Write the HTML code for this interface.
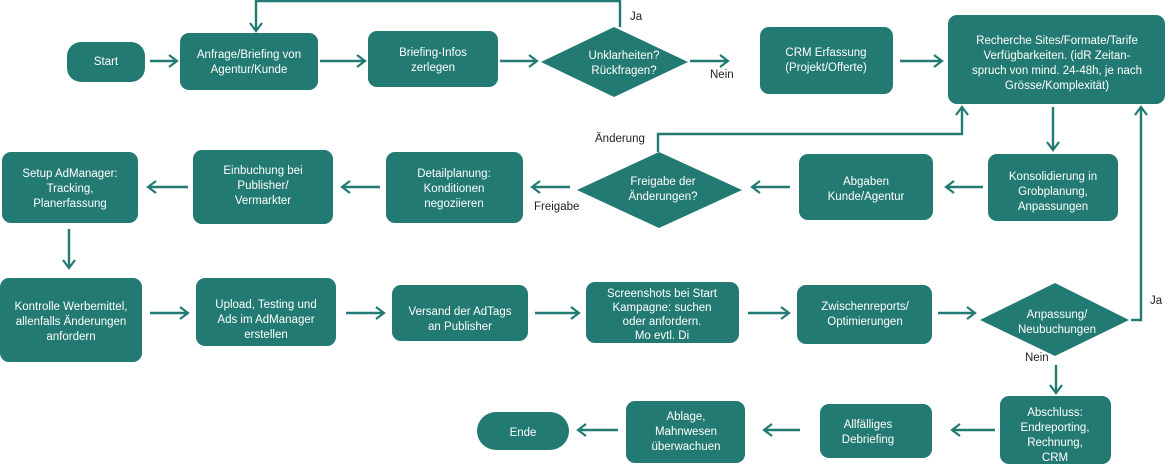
<!DOCTYPE html>
<html><head><meta charset="utf-8"><style>
html,body{margin:0;padding:0;background:#fff;}
svg{display:block;font-family:"Liberation Sans",sans-serif;}
.b{fill:#237a72;}
.t{fill:#fff;font-size:11.5px;text-anchor:middle;}
.l{fill:#222;font-size:11.5px;}
.c{stroke:#237a72;stroke-width:2.4;fill:none;}
</style></head><body>
<svg width="1165" height="466" viewBox="0 0 1165 466">
<defs><marker id="a" markerWidth="12" markerHeight="14" refX="10" refY="7" orient="auto" markerUnits="userSpaceOnUse"><path d="M2,1 L10,7 L2,13" fill="none" stroke="#237a72" stroke-width="2.2"/></marker></defs>
<g class="c" marker-end="url(#a)">
<path d="M150,61 H177"/>
<path d="M320,61 H365"/>
<path d="M500,61 H537"/>
<path d="M620,27 V1 H256 V31"/>
<path d="M690,61 H728"/>
<path d="M900,61 H942"/>
<path d="M1053,107 V150"/>
<path d="M983,187 H946"/>
<path d="M790,187 H752"/>
<path d="M658,152 V134 H962 V107"/>
<path d="M570,187 H532"/>
<path d="M380,187 H342"/>
<path d="M188,187 H148"/>
<path d="M69,229 V268"/>
<path d="M150,313 H188"/>
<path d="M346,313 H384"/>
<path d="M535,313 H579"/>
<path d="M748,313 H789"/>
<path d="M938,313 H975"/>
<path d="M1131,320 H1141 V107"/>
<path d="M1056,365 V393"/>
<path d="M995,430 H952"/>
<path d="M800,430 H764"/>
<path d="M618,430 H578"/>
</g>
<g class="b">
<rect x="67" y="42" width="78" height="40" rx="14"/>
<rect x="180" y="33" width="138" height="57" rx="9"/>
<rect x="368" y="31" width="130" height="56" rx="9"/>
<polygon points="541,62 614,27 688,62 614,97"/>
<rect x="760" y="27" width="133" height="67" rx="9"/>
<rect x="948" y="15" width="217" height="89" rx="9"/>
<rect x="988" y="154" width="130" height="67" rx="9"/>
<rect x="799" y="154" width="134" height="66" rx="9"/>
<polygon points="577,190 659,152 742,190 659,228"/>
<rect x="386" y="152" width="137" height="71" rx="9"/>
<rect x="193" y="150" width="140" height="74" rx="9"/>
<rect x="2" y="152" width="136" height="71" rx="9"/>
<rect x="0" y="278" width="142" height="84" rx="9"/>
<rect x="196" y="278" width="140" height="68" rx="9"/>
<rect x="392" y="285" width="136" height="56" rx="9"/>
<rect x="586" y="282" width="153" height="61" rx="9"/>
<rect x="797" y="285" width="135" height="59" rx="9"/>
<polygon points="980,320 1055,283 1129,320 1055,356"/>
<rect x="1000" y="396" width="111" height="68" rx="9"/>
<rect x="820" y="404" width="112" height="54" rx="9"/>
<rect x="626" y="401" width="119" height="62" rx="9"/>
<rect x="477" y="412" width="92" height="38" rx="19"/>
</g>
<g class="t">
<text x="106" y="65">Start</text>
<text x="249" y="58">Anfrage/Briefing von</text><text x="249" y="73">Agentur/Kunde</text>
<text x="433" y="56">Briefing-Infos</text><text x="433" y="71">zerlegen</text>
<text x="624" y="59">Unklarheiten?</text><text x="624" y="74">Rückfragen?</text>
<text x="826" y="56">CRM Erfassung</text><text x="826" y="71">(Projekt/Offerte)</text>
<text x="1057" y="44">Recherche Sites/Formate/Tarife</text><text x="1057" y="59">Verfügbarkeiten. (idR Zeitan-</text><text x="1057" y="74">spruch von mind. 24-48h, je nach</text><text x="1057" y="89">Grösse/Komplexität)</text>
<text x="1053" y="180">Konsolidierung in</text><text x="1053" y="195">Grobplanung,</text><text x="1053" y="210">Anpassungen</text>
<text x="866" y="185">Abgaben</text><text x="866" y="200">Kunde/Agentur</text>
<text x="663" y="185">Freigabe der</text><text x="663" y="200">Änderungen?</text>
<text x="454" y="177">Detailplanung:</text><text x="454" y="192">Konditionen</text><text x="454" y="207">negoziieren</text>
<text x="263" y="174">Einbuchung bei</text><text x="263" y="189">Publisher/</text><text x="263" y="204">Vermarkter</text>
<text x="70" y="177">Setup AdManager:</text><text x="70" y="192">Tracking,</text><text x="70" y="207">Planerfassung</text>
<text x="71" y="310">Kontrolle Werbemittel,</text><text x="71" y="325">allenfalls Änderungen</text><text x="71" y="340">anfordern</text>
<text x="266" y="308">Upload, Testing und</text><text x="266" y="323">Ads im AdManager</text><text x="266" y="338">erstellen</text>
<text x="460" y="315">Versand der AdTags</text><text x="460" y="330">an Publisher</text>
<text x="662" y="297">Screenshots bei Start</text><text x="662" y="311">Kampagne: suchen</text><text x="662" y="325">oder anfordern.</text><text x="662" y="339">Mo evtl. Di</text>
<text x="865" y="310">Zwischenreports/</text><text x="865" y="325">Optimierungen</text>
<text x="1057" y="318">Anpassung/</text><text x="1057" y="333">Neubuchungen</text>
<text x="1055" y="416">Abschluss:</text><text x="1055" y="431">Endreporting,</text><text x="1055" y="446">Rechnung,</text><text x="1055" y="461">CRM</text>
<text x="868" y="428">Allfälliges</text><text x="868" y="443">Debriefing</text>
<text x="686" y="420">Ablage,</text><text x="686" y="435">Mahnwesen</text><text x="686" y="450">überwachuen</text>
<text x="523" y="436">Ende</text>
</g>
<g class="l">
<text x="630" y="20">Ja</text>
<text x="710" y="78">Nein</text>
<text x="595" y="142">Änderung</text>
<text x="534" y="210">Freigabe</text>
<text x="1150" y="304">Ja</text>
<text x="1025" y="361">Nein</text>
</g>
</svg>
</body></html>
